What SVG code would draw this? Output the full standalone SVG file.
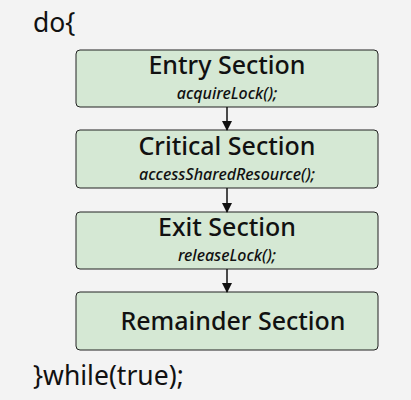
<svg xmlns="http://www.w3.org/2000/svg" width="411" height="400" viewBox="0 0 411 400">
<defs>
<marker id="ah" viewBox="0 0 10 10" refX="9" refY="5" markerWidth="10" markerHeight="10" markerUnits="userSpaceOnUse" orient="auto">
<path d="M0,0 L10,5 L0,10 z" fill="#111"/>
</marker>
<style>
.box{fill:#d5e8d4;stroke:#222;stroke-width:1}
.t{font-family:"Noto Sans","Open Sans",sans-serif;font-size:25px;font-weight:500;fill:#111;text-anchor:middle}
.s{font-family:"Noto Sans","Open Sans",sans-serif;font-size:16px;font-weight:500;font-style:italic;fill:#111;text-anchor:middle}
.code{font-family:"Noto Sans","Open Sans",sans-serif;font-size:26.5px;fill:#111}
.c{stroke:#111;stroke-width:1.5;fill:none}
</style>
</defs>
<rect width="411" height="400" fill="#f3f3f3"/>
<text class="code" x="33" y="32">do{</text>
<g id="entry">
<rect class="box" x="76" y="50" width="302" height="57" rx="4"/>
<text class="t" x="227" y="74">Entry Section</text>
<text class="s" x="227" y="99">acquireLock();</text>
</g>
<g id="critical">
<rect class="box" x="76" y="130" width="302" height="58" rx="4"/>
<text class="t" x="227" y="155">Critical Section</text>
<text class="s" x="227" y="180">accessSharedResource();</text>
</g>
<g id="exit">
<rect class="box" x="76" y="212" width="302" height="57" rx="4"/>
<text class="t" x="227" y="236">Exit Section</text>
<text class="s" x="227" y="261">releaseLock();</text>
</g>
<g id="remainder">
<rect class="box" x="76" y="292" width="302" height="58" rx="4"/>
<text class="t" x="233" y="330">Remainder Section</text>
</g>
<g id="connectors">
<line class="c" x1="227" y1="107" x2="227" y2="130" marker-end="url(#ah)"/>
<line class="c" x1="227" y1="188" x2="227" y2="212" marker-end="url(#ah)"/>
<line class="c" x1="227" y1="269" x2="227" y2="292" marker-end="url(#ah)"/>
</g>
<text class="code" x="33" y="385">}while(true);</text>
</svg>
